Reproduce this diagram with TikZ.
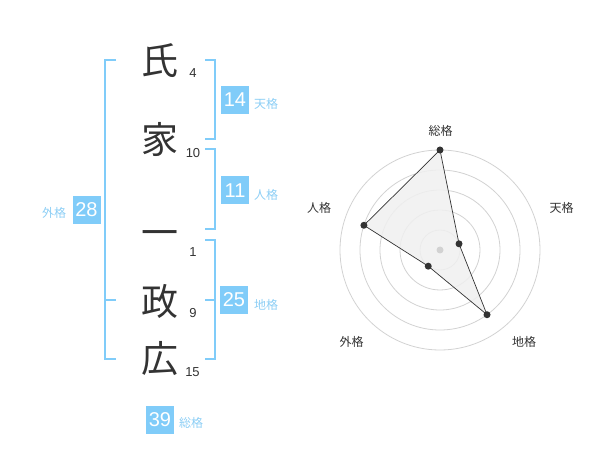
\documentclass[tikz,border=0pt]{standalone}
\usepackage{fontspec}
\setmainfont{Liberation Sans}
\newfontfamily\cjk{Noto Sans CJK JP}
\definecolor{kblue}{RGB}{128,204,249}
\definecolor{klabel}{RGB}{140,206,245}
\definecolor{kdark}{RGB}{51,51,51}
\definecolor{kring}{RGB}{210,210,210}
\begin{document}
\begin{tikzpicture}[x=1pt,y=-1pt,
  kanji/.style={font=\cjk\fontsize{37}{37}\selectfont, text=kdark, inner sep=0pt},
  stroke/.style={font=\fontsize{13}{13}\selectfont, text=kdark, inner sep=0pt},
  numbox/.style={fill=kblue, text=white, minimum width=28pt, minimum height=28pt, inner sep=0pt, font=\fontsize{20}{20}\selectfont},
  kaku/.style={font=\cjk\fontsize{12}{12}\selectfont, text=klabel, inner sep=0pt},
  bracket/.style={draw=kblue, line width=2pt},
  rlabel/.style={font=\cjk\fontsize{12}{12}\selectfont, text=kdark, inner sep=0pt},
  ring/.style={draw=kring, line width=0.8pt},
  dot/.style={circle, fill=kdark, inner sep=0pt, minimum size=7pt}
]
\useasboundingbox (0,0) rectangle (600,470);
% characters
\node[kanji] (c1) at (159.5,61) {氏};
\node[kanji] (c2) at (160,139) {家};
\node[kanji] (c3) at (160,239) {一};
\node[kanji] (c4) at (160,301.5) {政};
\node[kanji] (c5) at (160,359) {広};
% stroke counts
\node[stroke] (s1) at (193,73) {4};
\node[stroke] (s2) at (193,153) {10};
\node[stroke] (s3) at (193,252) {1};
\node[stroke] (s4) at (193,313) {9};
\node[stroke] (s5) at (192.5,372) {15};
% brackets
\draw[bracket] (116,60) -- (105,60) -- (105,359) -- (116,359);
\draw[bracket] (105,300) -- (116,300);
\draw[bracket] (205,60) -- (215,60) -- (215,139.5) -- (205,139.5);
\draw[bracket] (205,149) -- (215,149) -- (215,229.5) -- (205,229.5);
\draw[bracket] (205,240) -- (215,240) -- (215,359) -- (205,359);
\draw[bracket] (205,300) -- (215,300);
% boxes
\node[numbox] (ten) at (235,100) {14};
\node[kaku] (tenl) at (266,104) {天格};
\node[numbox] (jin) at (235,190.5) {11};
\node[kaku] (jinl) at (266,195) {人格};
\node[numbox] (chi) at (234,300) {25};
\node[kaku] (chil) at (266,305) {地格};
\node[numbox] (gai) at (86.5,210) {28};
\node[kaku] (gail) at (54,213) {外格};
\node[numbox] (sou) at (160,420) {39};
\node[kaku] (soul) at (191,423) {総格};
% radar
\coordinate (ctr) at (440,250);
\foreach \r in {20,40,60,80,100} \draw[ring] (ctr) circle[radius=\r];
\coordinate (pS) at (440,150);
\coordinate (pT) at (459.02,243.82);
\coordinate (pC) at (487.02,314.72);
\coordinate (pG) at (428.24,266.18);
\coordinate (pJ) at (363.92,225.28);
\fill[black!6, opacity=0.85] (pS) -- (pT) -- (pC) -- (pG) -- (pJ) -- cycle;
\draw[kdark, line width=0.7pt] (pS) -- (pT) -- (pC) -- (pG) -- (pJ) -- cycle;
\node[circle, fill=kring, inner sep=0pt, minimum size=7pt] (cdot) at (ctr) {};
\foreach \p in {pS,pT,pC,pG,pJ} \node[dot] at (\p) {};
\node[rlabel] (rS) at (440.7,130.7) {総格};
\node[rlabel] (rT) at (561.7,208.3) {天格};
\node[rlabel] (rC) at (524,341.7) {地格};
\node[rlabel] (rG) at (351.7,341.7) {外格};
\node[rlabel] (rJ) at (319,208.3) {人格};
\end{tikzpicture}
\end{document}
